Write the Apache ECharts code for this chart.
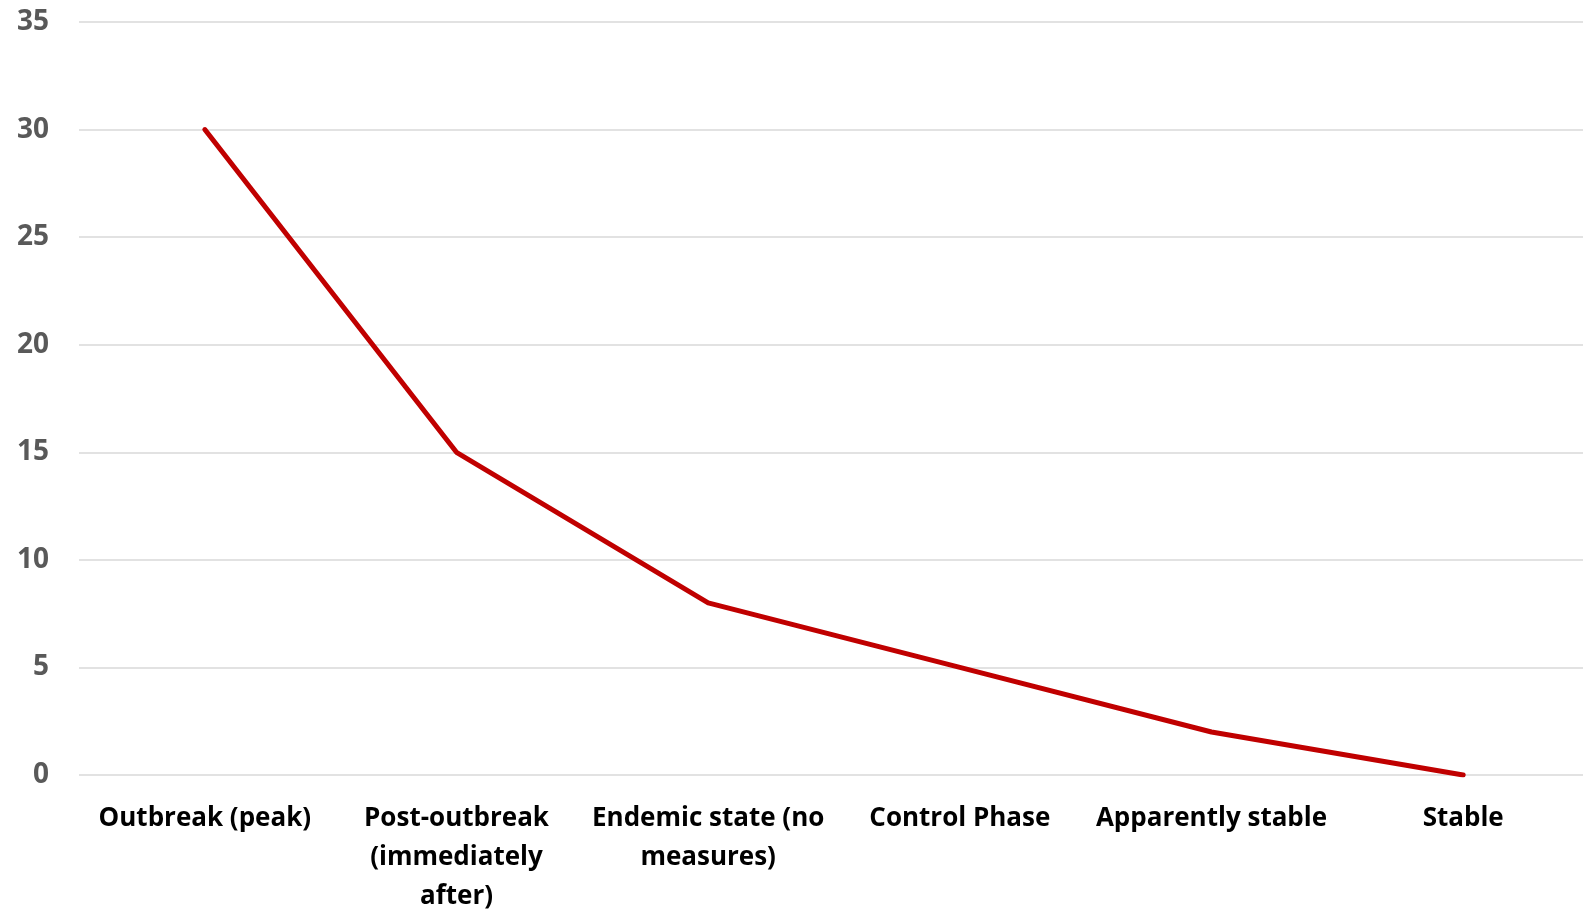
<!DOCTYPE html>
<html>
<head>
<meta charset="utf-8">
<title>Outbreak phases</title>
<script src="https://cdn.jsdelivr.net/npm/echarts@6/dist/echarts.min.js"></script>
<style>
  html, body { margin: 0; padding: 0; background: #ffffff; overflow: hidden; }
  /* plot runs slightly past the right edge of the window */
  #chart { width: 1589px; height: 916px; }
</style>
</head>
<body>
<div id="chart"></div>
<script>
// Phase names along the x axis
const phases = [
  'Outbreak (peak)',
  'Post-outbreak (immediately after)',
  'Endemic state (no measures)',
  'Control Phase',
  'Apparently stable',
  'Stable'
];

// Wrapped label text shown under each phase
const phaseLabels = [
  'Outbreak (peak)',
  'Post-outbreak\n(immediately\nafter)',
  'Endemic state (no\nmeasures)',
  'Control Phase',
  'Apparently stable',
  'Stable'
];

// Value for each phase
const values = [30, 15, 8, 5, 2, 0];

// Y axis range and step
const yMin = 0;
const yMax = 35;
const yStep = 5;

const chart = echarts.init(document.getElementById('chart'), null, { renderer: 'canvas' });

chart.setOption({
  animation: false,
  backgroundColor: '#ffffff',
  grid: {
    left: 79,
    top: 22,
    right: 0,
    bottom: 135,
    containLabel: false
  },
  xAxis: {
    type: 'category',
    data: phases,
    boundaryGap: true,
    axisLine: { show: false },
    axisTick: { show: false },
    axisLabel: {
      interval: 0,
      margin: 24,
      color: '#000000',
      fontFamily: 'Open Sans',
      fontWeight: 'bold',
      fontSize: 26,
      lineHeight: 39,
      align: 'center',
      formatter: function (value, index) { return phaseLabels[index]; }
    }
  },
  yAxis: {
    type: 'value',
    min: yMin,
    max: yMax,
    interval: yStep,
    axisLine: { show: false },
    axisTick: { show: false },
    splitLine: { lineStyle: { color: '#d9d9d9', width: 1.5 } },
    axisLabel: {
      margin: 30,
      color: '#595959',
      fontFamily: 'Open Sans',
      fontWeight: 'bold',
      fontSize: 28
    }
  },
  series: [{
    type: 'line',
    data: values,
    symbol: 'none',
    smooth: false,
    lineStyle: {
      color: '#c00000',
      width: 5,
      cap: 'round',
      join: 'round'
    }
  }]
});
</script>
</body>
</html>
